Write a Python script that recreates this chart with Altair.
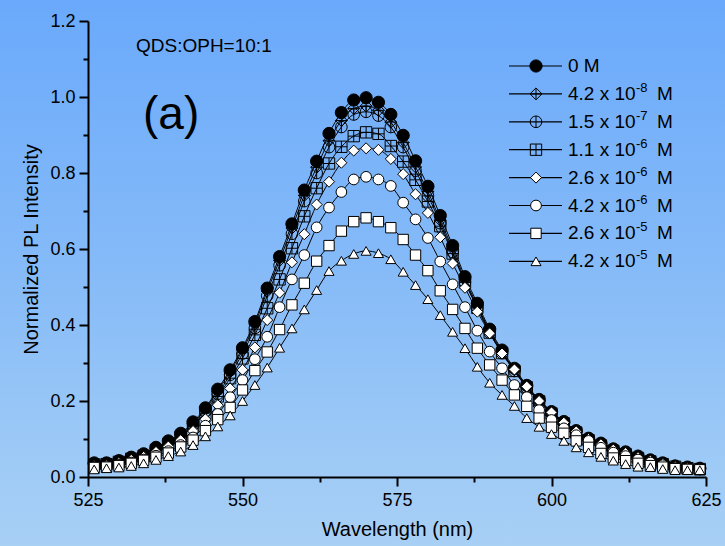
import altair as alt
import pandas as pd

# Emission wavelengths (nm)
wavelength = list(range(526, 625, 2))

# Normalized PL intensity for each OPH concentration
pl_0 = [0.037, 0.037, 0.043, 0.052, 0.061, 0.078, 0.095, 0.115, 0.145, 0.182,
        0.231, 0.282, 0.340, 0.409, 0.497, 0.580, 0.666, 0.755, 0.831, 0.904,
        0.959, 0.992, 0.998, 0.986, 0.954, 0.899, 0.832, 0.765, 0.688, 0.609,
        0.527, 0.457, 0.389, 0.334, 0.286, 0.241, 0.204, 0.172, 0.146, 0.122,
        0.102, 0.089, 0.074, 0.066, 0.055, 0.045, 0.037, 0.029, 0.026, 0.023]
pl_42e8 = [0.035, 0.036, 0.042, 0.050, 0.059, 0.075, 0.092, 0.112, 0.141, 0.178,
           0.226, 0.277, 0.334, 0.402, 0.489, 0.570, 0.655, 0.741, 0.815, 0.885,
           0.938, 0.970, 0.976, 0.965, 0.934, 0.880, 0.816, 0.751, 0.676, 0.600,
           0.519, 0.451, 0.384, 0.330, 0.282, 0.238, 0.201, 0.170, 0.144, 0.120,
           0.100, 0.087, 0.073, 0.064, 0.054, 0.044, 0.036, 0.029, 0.025, 0.022]
pl_15e7 = [0.034, 0.035, 0.041, 0.049, 0.057, 0.073, 0.089, 0.108, 0.137, 0.172,
           0.219, 0.269, 0.325, 0.392, 0.477, 0.557, 0.640, 0.726, 0.800, 0.868,
           0.921, 0.954, 0.961, 0.951, 0.921, 0.868, 0.806, 0.741, 0.668, 0.592,
           0.513, 0.446, 0.380, 0.326, 0.279, 0.235, 0.199, 0.168, 0.142, 0.119,
           0.099, 0.086, 0.072, 0.063, 0.053, 0.043, 0.035, 0.028, 0.024, 0.021]
pl_11e6 = [0.033, 0.034, 0.040, 0.048, 0.056, 0.071, 0.087, 0.106, 0.134, 0.168,
           0.212, 0.260, 0.312, 0.374, 0.444, 0.520, 0.602, 0.686, 0.760, 0.825,
           0.869, 0.897, 0.907, 0.903, 0.871, 0.830, 0.782, 0.725, 0.660, 0.588,
           0.512, 0.445, 0.380, 0.326, 0.279, 0.236, 0.199, 0.167, 0.141, 0.117,
           0.097, 0.083, 0.069, 0.060, 0.050, 0.041, 0.034, 0.027, 0.023, 0.021]
pl_26e6 = [0.030, 0.031, 0.037, 0.045, 0.053, 0.066, 0.080, 0.097, 0.121, 0.152,
           0.189, 0.233, 0.282, 0.341, 0.413, 0.485, 0.565, 0.639, 0.717, 0.777,
           0.827, 0.859, 0.865, 0.861, 0.837, 0.797, 0.744, 0.695, 0.631, 0.562,
           0.498, 0.435, 0.378, 0.325, 0.283, 0.238, 0.200, 0.170, 0.143, 0.120,
           0.100, 0.086, 0.072, 0.063, 0.052, 0.043, 0.035, 0.028, 0.024, 0.021]
pl_42e6 = [0.027, 0.028, 0.032, 0.038, 0.046, 0.056, 0.068, 0.084, 0.104, 0.135,
           0.166, 0.210, 0.255, 0.310, 0.369, 0.447, 0.520, 0.584, 0.657, 0.709,
           0.750, 0.783, 0.790, 0.783, 0.766, 0.722, 0.678, 0.629, 0.567, 0.507,
           0.447, 0.385, 0.330, 0.286, 0.242, 0.210, 0.176, 0.150, 0.128, 0.110,
           0.095, 0.077, 0.064, 0.055, 0.046, 0.038, 0.031, 0.025, 0.022, 0.020]
pl_26e5 = [0.025, 0.026, 0.030, 0.036, 0.044, 0.052, 0.063, 0.079, 0.097, 0.122,
           0.151, 0.183, 0.229, 0.280, 0.329, 0.388, 0.453, 0.510, 0.568, 0.609,
           0.647, 0.672, 0.682, 0.672, 0.656, 0.625, 0.584, 0.543, 0.490, 0.441,
           0.391, 0.339, 0.295, 0.255, 0.216, 0.186, 0.155, 0.131, 0.115, 0.095,
           0.078, 0.062, 0.050, 0.043, 0.036, 0.030, 0.026, 0.022, 0.020, 0.019]
pl_42e5 = [0.020, 0.023, 0.025, 0.029, 0.036, 0.045, 0.055, 0.067, 0.084, 0.107,
           0.133, 0.162, 0.200, 0.242, 0.288, 0.340, 0.391, 0.441, 0.492, 0.542,
           0.569, 0.587, 0.595, 0.589, 0.573, 0.540, 0.505, 0.468, 0.426, 0.382,
           0.339, 0.290, 0.248, 0.216, 0.187, 0.155, 0.132, 0.113, 0.095, 0.078,
           0.065, 0.053, 0.043, 0.034, 0.027, 0.026, 0.021, 0.018, 0.018, 0.018]

series_keys = ["0", "4.2e-8", "1.5e-7", "1.1e-6", "2.6e-6", "4.2e-6", "2.6e-5", "4.2e-5"]
series_values = [pl_0, pl_42e8, pl_15e7, pl_11e6, pl_26e6, pl_42e6, pl_26e5, pl_42e5]

# Legend text: mantissa part, exponent (superscript) and unit
legend_base = ["0 M", "4.2 x 10", "1.5 x 10", "1.1 x 10", "2.6 x 10", "4.2 x 10", "2.6 x 10", "4.2 x 10"]
legend_exp = ["", "-8", "-7", "-6", "-6", "-6", "-5", "-5"]
legend_unit = ["", "M", "M", "M", "M", "M", "M", "M"]

# Axis tick positions
x_major = [525, 550, 575, 600, 625]
x_minor = [537.5, 562.5, 587.5, 612.5]
y_major = [0, 0.2, 0.4, 0.6, 0.8, 1.0, 1.2]
y_minor = [0.1, 0.3, 0.5, 0.7, 0.9, 1.1]

# Marker styles per series
shapes = [
    "circle",
    "M0,-1L1,0L0,1L-1,0ZM-1,0L1,0M0,-1L0,1",                    # diamond with cross
    "M-1,0A1,1,0,1,1,1,0A1,1,0,1,1,-1,0ZM0,-1L0,1",             # circle with bar
    "M-1,-1L1,-1L1,1L-1,1ZM-1,0L1,0M0,-1L0,1",                  # square with cross
    "diamond",
    "circle",
    "square",
    "triangle-up",
]
fills = ["black", "transparent", "transparent", "transparent", "white", "white", "white", "white"]
sizes = [150, 100, 100, 90, 115, 120, 100, 90]

rows = []
for key, vals in zip(series_keys, series_values):
    for w, v in zip(wavelength, vals):
        rows.append({"series": key, "wl": w, "val": v})
df = pd.DataFrame(rows)

legend_df = pd.DataFrame({
    "series": series_keys,
    "base": legend_base,
    "exp": legend_exp,
    "unit": legend_unit,
    "rank": list(range(len(series_keys))),
})

FONT = "Liberation Sans"
W, H = 618, 456

x_scale = alt.Scale(domain=[525, 625], nice=False, zero=False)
y_scale = alt.Scale(domain=[0, 1.2], nice=False, zero=False)

shape_enc = alt.Shape("series:N", scale=alt.Scale(domain=series_keys, range=shapes), legend=None)
fill_enc = alt.Fill("series:N", scale=alt.Scale(domain=series_keys, range=fills), legend=None)
size_enc = alt.Size("series:O", scale=alt.Scale(domain=series_keys, range=sizes), legend=None)

# Gradient backdrop covering the whole canvas
background = alt.Chart(pd.DataFrame({"k": [0]})).mark_rect(
    fill=alt.Gradient(
        gradient="linear",
        stops=[alt.GradientStop(color="#6aa9fb", offset=0),
               alt.GradientStop(color="#86bbf8", offset=0.5),
               alt.GradientStop(color="#a8d0f5", offset=1)],
        x1=0, x2=0, y1=0, y2=1,
    ),
).encode(x=alt.value(-88), x2=alt.value(637), y=alt.value(-21), y2=alt.value(525))

lines = alt.Chart(df).mark_line(color="black", strokeWidth=1, interpolate="monotone").encode(
    x=alt.X("wl:Q", scale=x_scale,
            axis=alt.Axis(values=x_major, title="Wavelength (nm)", orient="bottom", zindex=1,
                          tickSize=9, labelPadding=5, titlePadding=10, labelFlush=False)),
    y=alt.Y("val:Q", scale=y_scale,
            axis=alt.Axis(values=y_major, format=".1f", title="Normalized PL Intensity",
                          orient="left", zindex=1, tickSize=9, labelPadding=4, titlePadding=8)),
    detail="series:N",
)

points = alt.Chart(df).mark_point(filled=True, stroke="black", strokeWidth=1, opacity=1).encode(
    x=alt.X("wl:Q", scale=x_scale,
            axis=alt.Axis(values=x_minor, labels=False, title=None, zindex=1,
                          domain=False, tickSize=5, orient="bottom")),
    y=alt.Y("val:Q", scale=y_scale,
            axis=alt.Axis(values=y_minor, labels=False, title=None, zindex=1,
                          domain=False, tickSize=5, orient="left")),
    shape=shape_enc,
    fill=fill_enc,
    size=size_enc,
)

# Hand-built legend block
leg_base = alt.Chart(legend_df).transform_calculate(ly="45 + 27.9 * datum.rank")
leg_lines = leg_base.mark_rule(color="black", strokeWidth=1.2).encode(
    x=alt.value(421), x2=alt.value(474), y=alt.Y("ly:Q", scale=None)
)
leg_marks = leg_base.mark_point(filled=True, stroke="black", strokeWidth=1, opacity=1).encode(
    x=alt.value(448), y=alt.Y("ly:Q", scale=None), shape=shape_enc, fill=fill_enc, size=size_enc
)
leg_text = leg_base.mark_text(align="left", baseline="middle", font=FONT, fontSize=19, color="black").encode(
    x=alt.value(480), y=alt.Y("ly:Q", scale=None), text="base:N"
)
leg_exp = leg_base.transform_calculate(ey="datum.ly - 6").mark_text(
    align="left", baseline="middle", font=FONT, fontSize=13, color="black"
).encode(x=alt.value(548), y=alt.Y("ey:Q", scale=None), text="exp:N")
leg_unit = leg_base.mark_text(align="left", baseline="middle", font=FONT, fontSize=19, color="black").encode(
    x=alt.value(569), y=alt.Y("ly:Q", scale=None), text="unit:N"
)

ratio_label = alt.Chart(pd.DataFrame({"t": ["QDS:OPH=10:1"]})).mark_text(
    align="left", baseline="middle", font=FONT, fontSize=19, color="black"
).encode(x=alt.value(48), y=alt.value(25), text="t:N")

panel_label = alt.Chart(pd.DataFrame({"t": ["(a)"]})).mark_text(
    align="left", baseline="alphabetic", font=FONT, fontSize=46, color="black"
).encode(x=alt.value(55), y=alt.value(108), text="t:N")

chart = alt.layer(
    background, lines, points, leg_lines, leg_marks, leg_text, leg_exp, leg_unit, ratio_label, panel_label
).resolve_axis(
    x="independent", y="independent"
).properties(
    width=W, height=H,
    autosize=alt.AutoSizeParams(type="none"),
    padding={"left": 88, "right": 19, "top": 21, "bottom": 69},
).configure(
    background="#8bbcf6",
).configure_view(
    stroke=None,
).configure_axis(
    labelFont=FONT, titleFont=FONT, labelFontSize=18, titleFontSize=20,
    labelColor="black", titleColor="black", titleFontWeight="normal",
    domainColor="black", tickColor="black", domainWidth=2, tickWidth=2, grid=False,
)

chart.save("out.html", embed_options={"renderer": "svg", "actions": False})
